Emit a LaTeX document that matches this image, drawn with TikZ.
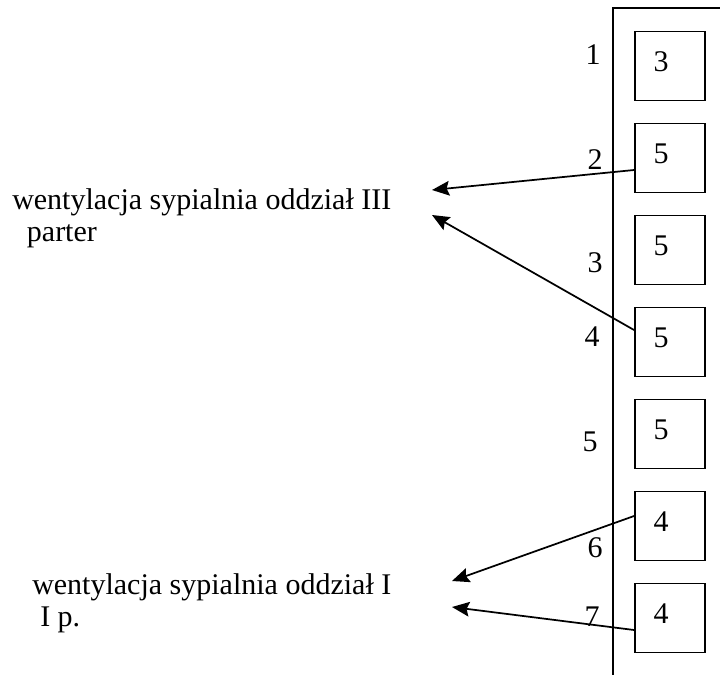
\documentclass[tikz,border=0pt]{standalone}
\usepackage{fontspec}
\setmainfont{Liberation Serif}
\usetikzlibrary{arrows.meta,positioning}

\begin{document}
\begin{tikzpicture}[>={Stealth[length=13pt,width=11pt,inset=2pt]}, x=0.75pt, y=-0.75pt,
  node distance=69pt, on grid,
  every node/.style={font=\fontsize{22.5}{24}\selectfont},
  slot/.style={draw, line width=1.4pt, minimum width=52.5pt, minimum height=51.75pt, inner sep=0pt},
  room/.style={align=left, anchor=base west, inner sep=0pt}]
\useasboundingbox (0,0) rectangle (720,675);
% wall of the shaft
\draw[line width=1.4pt] (720,8) -- (613,8) -- (613,675);
% openings
\node [slot, label={[xshift=-6.75pt,yshift=3pt]center:3}] (s1) at (670,66) {};
\node [slot, label={[xshift=-6.75pt,yshift=3pt]center:5}] (s2) [below=of s1] {};
\node [slot, label={[xshift=-6.75pt,yshift=3pt]center:5}] (s3) [below=of s2] {};
\node [slot, label={[xshift=-6.75pt,yshift=3pt]center:5}] (s4) [below=of s3] {};
\node [slot, label={[xshift=-6.75pt,yshift=3pt]center:5}] (s5) [below=of s4] {};
\node [slot, label={[xshift=-6.75pt,yshift=3pt]center:4}] (s6) [below=of s5] {};
\node [slot, label={[xshift=-6.75pt,yshift=3pt]center:4}] (s7) [below=of s6] {};
% numbers of the ducts
\node (n1) at (593,55) {1};
\node (n2) at (595,160) {2};
\node (n3) at (595,263) {3};
\node (n4) at (592,337) {4};
\node (n5) at (590,442) {5};
\node (n6) at (595,548) {6};
\node (n7) at (592,617) {7};
% rooms
\node [room] (r3) at (12,241) {wentylacja sypialnia oddział III\\\hspace*{11pt}parter};
\node [room] (r1) at (32,626) {wentylacja sypialnia oddział I\\\hspace*{6pt}I p.};
\coordinate (e1) at (432,190);
\coordinate (e2) at (432,215);
\coordinate (e3) at (452,581);
\coordinate (e4) at (452,607);
% ducts to rooms
\path[->, line width=1.3pt]
([yshift=-9pt]s2.west) edge (e1)
([yshift=9pt]s4.west) edge (e2)
([yshift=7.5pt]s6.west) edge (e3)
([yshift=-9pt]s7.west) edge (e4)
;
\end{tikzpicture}
\end{document}
